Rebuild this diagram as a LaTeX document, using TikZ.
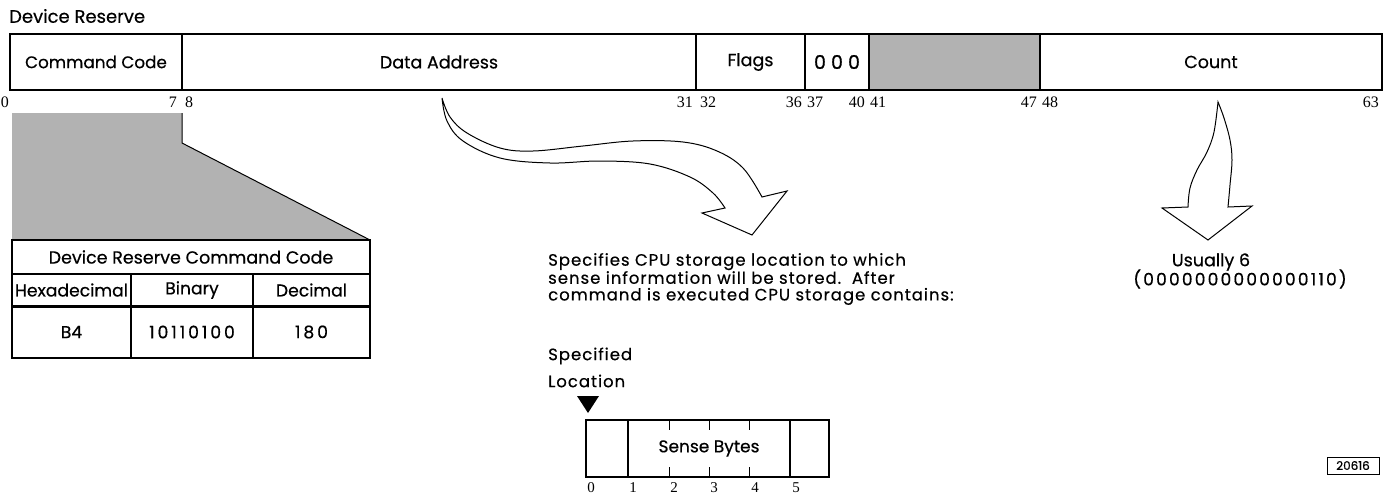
\documentclass[tikz,border=0pt]{standalone}
\usepackage{fontspec}
\setmainfont{Poppins}[FakeBold=0.5]
\newfontfamily\numfont{Liberation Serif}
\begin{document}
\begin{tikzpicture}[x=1pt,y=-1pt,
  line join=miter,
  fieldbox/.style={draw, line width=1.1pt, minimum height=56pt, inner sep=0pt, outer sep=0pt, font=\fontsize{17.5}{20}\selectfont},
  bitnum/.style={inner sep=0pt, font=\numfont\fontsize{16}{18}\selectfont},
  snum/.style={inner sep=0pt, font=\numfont\fontsize{15}{17}\selectfont},
  tcell/.style={draw, line width=1.1pt, inner sep=0pt, outer sep=0pt, font=\fontsize{17.2}{20}\selectfont},
  spaced/.style={font=\fontsize{17.2}{20}\selectfont\addfontfeature{LetterSpace=17}},
  body/.style={inner sep=0pt, align=left, font=\fontsize{16.5}{16.7}\selectfont\addfontfeature{LetterSpace=6}},
  sbox/.style={draw, line width=1.1pt, minimum height=57pt, inner sep=0pt, outer sep=0pt, font=\fontsize{17}{20}\selectfont},
  shadefill/.style={fill=black!30},
  bigarrow/.style={draw, line width=1pt, fill=white, line join=miter}
]
\path[use as bounding box] (0,0) rectangle (1395,495);

% title
\node[anchor=west, inner sep=0pt, font=\fontsize{18}{20}\selectfont] (title) at (9,16) {Device Reserve};

% main word
\node[fieldbox, minimum width=172pt, font=\fontsize{16.8}{20}\selectfont] (cc) at (96,62) {Command Code};
\node[fieldbox, minimum width=514pt] (da) at (439,62) {Data Address};
\node[fieldbox, minimum width=109pt] (fl) at (750.5,62) {Flags};
\node[fieldbox, minimum width=64pt, font=\fontsize{19}{20}\selectfont] (zz) at (837,62) {0 0 0};
\node[fieldbox, minimum width=171pt, shadefill] (sh) at (954.5,62) {};
\node[fieldbox, minimum width=342pt] (ct) at (1211,62) {Count};

% bit numbers
\node[bitnum] (b0) at (5,102) {0};
\node[bitnum, anchor=east] (b7) at (177,102) {7};
\node[bitnum, anchor=west] (b8) at (185,102) {8};
\node[bitnum, anchor=east] (b31) at (693,102) {31};
\node[bitnum, anchor=west] (b32) at (700,102) {32};
\node[bitnum, anchor=east] (b36) at (802,102) {36};
\node[bitnum, anchor=west] (b37) at (807,102) {37};
\node[bitnum, anchor=east] (b40) at (865,102) {40};
\node[bitnum, anchor=west] (b41) at (870,102) {41};
\node[bitnum, anchor=east] (b47) at (1037,102) {47};
\node[bitnum, anchor=west] (b48) at (1042,102) {48};
\node[bitnum, anchor=east] (b63) at (1379,102) {63};

% expansion shading
\fill[shadefill] (12,113) -- (182,113) -- (182,143) -- (370,240) -- (12,240) -- cycle;
\draw[line width=1pt] (182,113) -- (182,143) -- (370,240);

% table
\node[tcell, minimum width=358pt, minimum height=34pt, font=\fontsize{17.5}{20}\selectfont] (th) at (191,257) {Device Reserve Command Code};
\node[tcell, minimum width=119pt, minimum height=32pt] (h1) at (71.5,290) {Hexadecimal};
\node[tcell, minimum width=122pt, minimum height=32pt] (h2) at (192,290) {Binary};
\node[tcell, minimum width=117pt, minimum height=32pt] (h3) at (311.5,290) {Decimal};
\node[tcell, minimum width=119pt, minimum height=52pt] (d1) at (71.5,332) {B4};
\node[tcell, spaced, minimum width=122pt, minimum height=52pt] (d2) at (192,332) {10110100};
\node[tcell, spaced, minimum width=117pt, minimum height=52pt] (d3) at (311.5,332) {180};
\draw[line width=3pt] (h1.south west) -- (h3.south east);

% data address arrow
\draw[bigarrow]
  plot[smooth, tension=0.6] coordinates {(442,98) (450,117) (467,133) (500,148) (533,151) (583,146) (633,141) (683,142) (717,151) (743,168) (762,197)}
  -- (787,191) -- (752,235) -- (702,213) -- (725,208)
  -- plot[smooth, tension=0.6] coordinates {(725,208) (713,193) (690,177) (650,164) (600,161) (550,163) (500,158) (463,141) (447,121) (442,98)}
  -- cycle;

% count arrow
\draw[bigarrow]
  plot[smooth, tension=0.6] coordinates {(1218,102) (1224,118) (1230,140) (1232,160) (1230,185) (1228,207)}
  -- (1252,206) -- (1208,240) -- (1162,208) -- (1188,207)
  -- plot[smooth, tension=0.6] coordinates {(1188,207) (1190,188) (1197,170) (1207,152) (1214,132) (1218,102)}
  -- cycle;

% texts
\node[body, anchor=west] (spec) at (548,279) {Specifies CPU storage location to which\\sense information will be stored.\ \ After\\command is executed CPU storage contains:};
\node[inner sep=0pt, font=\fontsize{17.5}{20}\selectfont] (us) at (1211,262) {Usually 6};
\node[inner sep=0pt, font=\fontsize{17}{20}\selectfont\addfontfeature{LetterSpace=13}] (usb) at (1240,279) {(0000000000000110)};

% specified location
\node[body, anchor=west] (sp1) at (548,356) {Specified};
\node[body, anchor=west] (sp2) at (548,381) {Location};
\fill (577,396) -- (599,396) -- (588,413) -- cycle;

% sense bytes
\node[sbox, minimum width=42pt] (s0) at (607,448.5) {};
\node[sbox, minimum width=162pt] (sm) at (709,448.5) {Sense Bytes};
\node[sbox, minimum width=39pt] (s5) at (809.5,448.5) {};
\foreach \tx in {669,709,749}{
  \draw[line width=1pt] (\tx,420) -- (\tx,430);
  \draw[line width=1pt] (\tx,467) -- (\tx,477);
}
\node[snum] (n0) at (591,488) {0};
\node[snum] (n1) at (633,488) {1};
\node[snum] (n2) at (674,488) {2};
\node[snum] (n3) at (714,488) {3};
\node[snum] (n4) at (755,488) {4};
\node[snum] (n5) at (796,488) {5};

% figure number
\node[draw, line width=1pt, minimum width=52pt, minimum height=17pt, inner sep=0pt, font=\fontsize{12}{14}\selectfont] (fig) at (1353,465.5) {20616};
\end{tikzpicture}
\end{document}
